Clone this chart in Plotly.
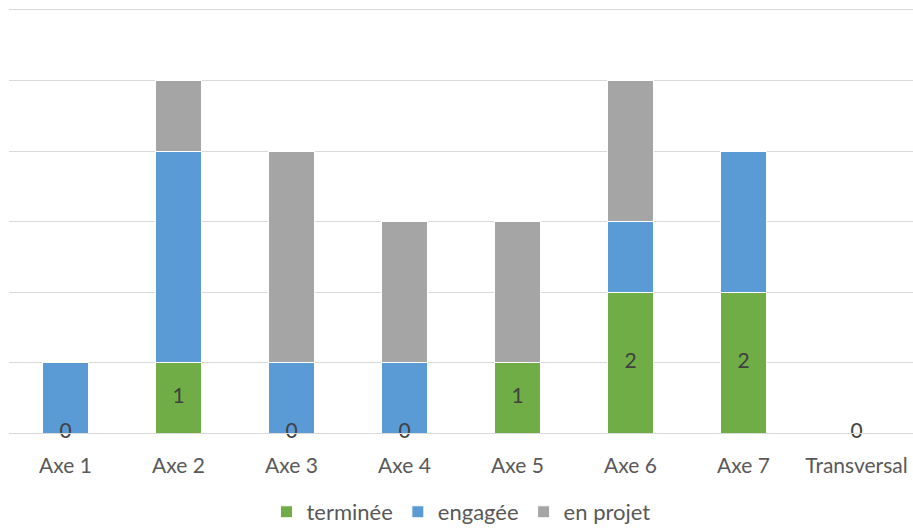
import plotly.graph_objects as go

categories = ["Axe 1", "Axe 2", "Axe 3", "Axe 4", "Axe 5", "Axe 6", "Axe 7", "Transversal"]
terminee = [0, 1, 0, 0, 1, 2, 2, 0]
engagee = [1, 3, 1, 1, 0, 1, 2, 0]
en_projet = [0, 1, 3, 2, 2, 2, 0, 0]

FONT = "Lato, 'Open Sans', sans-serif"
TXT = "#595959"
FS = 21

fig = go.Figure()
fig.add_trace(go.Bar(name="terminée", x=categories, y=terminee, marker_color="#70ad47",
                     marker_line_color="white", marker_line_width=1))
fig.add_trace(go.Bar(name="engagée", x=categories, y=engagee, marker_color="#5b9bd5",
                     marker_line_color="white", marker_line_width=1))
fig.add_trace(go.Bar(name="en projet", x=categories, y=en_projet, marker_color="#a5a5a5",
                     marker_line_color="white", marker_line_width=1))
# data labels for "terminée", centred on its segment (0 values sit on the axis)
fig.add_trace(go.Scatter(x=categories, y=[v / 2 for v in terminee], mode="text",
                         text=[str(v) for v in terminee], textposition="middle center",
                         textfont=dict(size=FS, color="#404040", family=FONT),
                         showlegend=False, cliponaxis=False, hoverinfo="skip"))

fig.update_layout(
    barmode="stack",
    bargap=0.6,
    width=913, height=530,
    margin=dict(l=9, r=0, t=10, b=97, autoexpand=False),
    plot_bgcolor="white", paper_bgcolor="white",
    font=dict(family=FONT, size=FS, color=TXT),
    legend=dict(orientation="h", x=0.5, xanchor="center", xref="paper",
                y=0.034, yanchor="middle", yref="container",
                font=dict(size=FS + 1, color=TXT), itemwidth=30, traceorder="normal"),
    showlegend=True,
)
fig.update_yaxes(range=[0, 6], dtick=1, showticklabels=False, showgrid=True,
                 gridcolor="#d9d9d9", gridwidth=1, zeroline=True, zerolinecolor="#d9d9d9",
                 zerolinewidth=1, fixedrange=True)
fig.update_xaxes(showgrid=False, showline=True, mirror=True, linecolor="#d9d9d9", linewidth=1,
                 tickfont=dict(size=FS, color=TXT), ticklabelstandoff=14, fixedrange=True)

fig.write_html("out.html", config={"displayModeBar": False},
               post_script="document.body.style.margin='0';")
